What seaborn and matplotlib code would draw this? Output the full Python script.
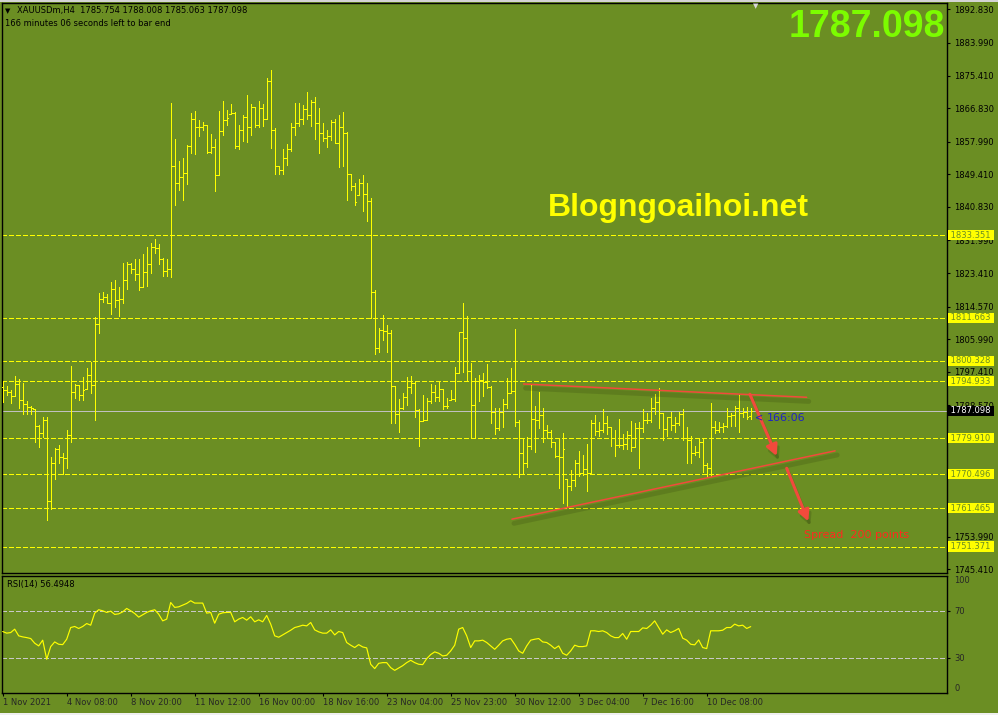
import numpy as np
import pandas as pd
import matplotlib
matplotlib.use('Agg')
import matplotlib.pyplot as plt
import matplotlib.patheffects as pe
import matplotlib.transforms as mtransforms
from matplotlib.patches import Rectangle
import seaborn as sns


# XAUUSDm H4 bars (oldest first)
bar_high = [
    1794.9, 1793.6, 1792.6, 1796.3, 1795.5, 1794.5, 1789.6, 1788.4, 1787.6, 1783.4,
    1785.6, 1785.6, 1775.0, 1777.4, 1778.1, 1776.1, 1782.0, 1798.9, 1794.1, 1793.9,
    1796.1, 1798.5, 1800.0, 1811.9, 1818.2, 1818.5, 1818.0, 1821.1, 1821.6, 1819.8,
    1826.1, 1826.4, 1826.1, 1827.0, 1827.0, 1828.4, 1830.2, 1831.2, 1832.5, 1831.0,
    1827.3, 1827.0, 1868.3, 1858.6, 1853.0, 1853.6, 1857.1, 1865.6, 1866.1, 1863.7,
    1863.2, 1862.3, 1860.0, 1858.7, 1866.1, 1868.7, 1866.3, 1867.9, 1865.9, 1862.4,
    1865.0, 1870.3, 1867.9, 1867.2, 1868.7, 1867.9, 1874.9, 1877.0, 1861.5, 1851.6,
    1856.0, 1857.4, 1862.8, 1868.1, 1868.1, 1867.6, 1871.0, 1869.1, 1869.8, 1866.8,
    1863.0, 1861.1, 1863.7, 1863.9, 1865.0, 1865.9, 1860.6, 1849.6, 1847.2, 1848.3,
    1849.2, 1847.0, 1843.1, 1819.0, 1808.9, 1812.4, 1809.7, 1808.4, 1793.8, 1790.2,
    1791.7, 1796.0, 1796.3, 1794.8, 1787.5, 1791.3, 1790.4, 1794.2, 1793.9, 1795.0,
    1792.8, 1790.4, 1792.6, 1798.6, 1808.0, 1815.4, 1812.1, 1799.6, 1795.7, 1796.6,
    1797.0, 1799.4, 1793.7, 1787.8, 1787.9, 1790.2, 1795.7, 1798.3, 1808.6, 1784.7,
    1779.9, 1780.3, 1793.9, 1788.4, 1792.0, 1787.8, 1783.4, 1782.1, 1779.0, 1779.9,
    1781.4, 1769.3, 1771.5, 1774.2, 1776.6, 1775.5, 1778.4, 1784.7, 1786.0, 1784.3,
    1787.5, 1785.8, 1783.0, 1782.1, 1784.9, 1781.0, 1781.9, 1784.5, 1784.0, 1784.3,
    1787.5, 1786.5, 1790.4, 1791.6, 1793.1, 1786.5, 1785.6, 1786.9, 1785.4, 1786.9,
    1787.5, 1783.0, 1780.5, 1777.9, 1779.9, 1779.6, 1773.3, 1789.1, 1784.5, 1784.3,
    1784.0, 1788.0, 1786.6, 1788.4, 1791.3, 1787.8, 1788.2, 1788.008]

bar_low = [
    1789.5, 1791.3, 1789.1, 1791.0, 1787.9, 1786.2, 1786.2, 1786.4, 1779.0, 1777.7,
    1780.3, 1758.3, 1761.4, 1769.3, 1773.3, 1770.4, 1772.1, 1779.0, 1790.6, 1790.1,
    1789.9, 1793.0, 1791.7, 1784.8, 1807.7, 1815.8, 1815.4, 1812.6, 1814.4, 1812.1,
    1815.6, 1819.1, 1823.5, 1821.6, 1818.9, 1819.8, 1820.0, 1823.3, 1828.6, 1825.9,
    1822.6, 1822.6, 1822.3, 1841.3, 1845.3, 1842.6, 1846.8, 1855.1, 1854.7, 1859.5,
    1861.1, 1855.1, 1855.1, 1845.1, 1849.1, 1859.8, 1862.4, 1865.3, 1856.4, 1856.0,
    1858.2, 1858.0, 1859.8, 1861.9, 1861.9, 1862.2, 1863.9, 1856.4, 1849.6, 1849.6,
    1849.6, 1851.8, 1855.6, 1859.8, 1862.1, 1862.6, 1864.1, 1862.2, 1858.7, 1855.1,
    1858.3, 1856.7, 1858.4, 1857.6, 1851.4, 1851.6, 1842.6, 1845.3, 1841.3, 1843.9,
    1839.8, 1837.2, 1811.5, 1802.2, 1802.7, 1805.9, 1802.7, 1784.0, 1784.0, 1781.6,
    1787.5, 1788.7, 1791.7, 1785.4, 1777.9, 1784.5, 1784.7, 1789.1, 1789.8, 1789.8,
    1787.6, 1787.8, 1790.0, 1789.8, 1797.0, 1797.4, 1795.2, 1779.9, 1780.1, 1789.8,
    1791.1, 1793.1, 1784.0, 1780.9, 1782.1, 1782.8, 1787.8, 1791.7, 1783.2, 1769.6,
    1770.7, 1772.4, 1777.2, 1776.4, 1782.5, 1779.0, 1779.9, 1777.7, 1775.0, 1766.7,
    1762.9, 1761.7, 1766.3, 1767.3, 1770.0, 1770.2, 1766.1, 1770.7, 1780.8, 1780.5,
    1781.6, 1781.0, 1777.9, 1775.2, 1777.5, 1777.2, 1777.0, 1776.6, 1777.5, 1772.0,
    1781.6, 1784.0, 1784.3, 1786.3, 1782.5, 1779.4, 1780.5, 1782.1, 1781.6, 1783.4,
    1779.4, 1773.5, 1773.3, 1775.5, 1775.1, 1771.1, 1769.8, 1770.0, 1781.2, 1781.6,
    1781.6, 1783.0, 1783.1, 1783.1, 1781.6, 1785.6, 1785.0, 1785.063]

bar_close = [
    1792.6, 1792.0, 1791.0, 1794.3, 1789.9, 1788.8, 1788.2, 1787.8, 1783.1, 1781.4,
    1784.7, 1763.3, 1773.3, 1777.2, 1775.0, 1774.6, 1780.7, 1792.1, 1793.9, 1791.3,
    1792.6, 1796.5, 1793.9, 1809.9, 1816.7, 1817.2, 1815.6, 1819.1, 1816.3, 1816.7,
    1821.6, 1825.8, 1824.4, 1823.1, 1819.8, 1823.7, 1825.9, 1830.2, 1829.9, 1827.0,
    1824.0, 1824.4, 1851.6, 1847.0, 1848.6, 1849.8, 1856.9, 1863.9, 1861.8, 1861.9,
    1862.3, 1855.3, 1856.5, 1849.1, 1860.8, 1863.7, 1864.3, 1865.5, 1856.9, 1861.0,
    1864.4, 1862.0, 1867.2, 1862.3, 1867.0, 1863.9, 1873.9, 1861.2, 1851.6, 1850.5,
    1853.6, 1856.2, 1861.8, 1862.8, 1863.9, 1866.5, 1865.0, 1868.5, 1862.8, 1860.2,
    1858.9, 1859.6, 1863.1, 1857.6, 1861.8, 1860.4, 1849.6, 1846.3, 1842.2, 1847.0,
    1844.2, 1842.4, 1818.4, 1803.6, 1808.4, 1808.2, 1807.5, 1793.8, 1786.2, 1787.9,
    1790.9, 1793.5, 1794.4, 1787.3, 1784.4, 1784.7, 1789.7, 1792.0, 1790.9, 1792.8,
    1788.4, 1788.4, 1790.2, 1797.0, 1808.0, 1806.2, 1797.7, 1788.7, 1795.1, 1795.2,
    1794.8, 1793.3, 1786.7, 1782.5, 1786.7, 1788.9, 1791.7, 1792.4, 1784.3, 1775.9,
    1773.3, 1777.9, 1784.9, 1784.7, 1786.0, 1782.1, 1781.6, 1779.0, 1775.2, 1775.1,
    1777.0, 1767.3, 1768.9, 1773.3, 1770.7, 1771.7, 1770.7, 1783.8, 1781.9, 1782.1,
    1783.8, 1783.0, 1779.9, 1778.1, 1778.1, 1778.4, 1780.8, 1777.5, 1782.5, 1782.5,
    1784.7, 1784.7, 1787.8, 1789.5, 1786.5, 1782.3, 1785.4, 1783.4, 1783.8, 1786.3,
    1780.1, 1779.4, 1776.0, 1776.4, 1779.0, 1772.9, 1772.0, 1783.0, 1782.1, 1783.0,
    1783.1, 1785.8, 1786.0, 1788.0, 1786.5, 1786.9, 1785.6, 1787.098]

first_open = 1793.5
last_open = 1785.754

rsi14 = [
    52.3, 50.9, 51.4, 54.3, 48.6, 47.7, 47.1, 46.3, 42.3, 40.0,
    44.9, 28.6, 39.4, 43.4, 41.4, 41.1, 45.7, 55.7, 56.6, 54.9,
    56.6, 59.1, 57.7, 68.0, 70.9, 70.0, 68.6, 69.7, 66.9, 67.4,
    69.1, 72.0, 70.0, 67.7, 64.6, 66.6, 68.6, 70.0, 70.9, 67.1,
    61.4, 62.9, 77.1, 72.9, 73.4, 74.9, 76.3, 78.6, 76.6, 76.6,
    76.6, 68.0, 68.6, 59.4, 67.1, 68.3, 68.6, 68.6, 60.6, 62.9,
    64.3, 62.0, 64.9, 60.6, 62.3, 60.6, 66.0, 58.6, 48.6, 47.4,
    49.4, 51.4, 53.4, 55.7, 56.6, 57.7, 57.1, 60.0, 53.7, 52.0,
    50.9, 50.9, 53.7, 49.4, 52.3, 51.4, 42.9, 40.6, 38.6, 41.1,
    39.1, 38.3, 24.3, 20.6, 25.1, 25.7, 25.7, 21.4, 19.1, 21.1,
    23.1, 25.7, 27.7, 25.7, 24.3, 24.0, 29.1, 32.6, 34.9, 33.7,
    31.4, 32.0, 35.7, 40.6, 54.3, 55.7, 48.6, 38.6, 44.3, 44.3,
    44.9, 42.9, 40.0, 37.1, 40.6, 44.3, 45.7, 46.3, 41.4, 35.7,
    33.7, 40.0, 44.9, 45.7, 46.3, 43.4, 42.9, 40.6, 37.7, 40.0,
    33.7, 32.0, 35.7, 40.6, 39.4, 39.4, 40.0, 52.9, 52.9, 52.3,
    52.9, 51.4, 48.6, 47.1, 47.1, 50.6, 45.7, 52.3, 52.3, 52.3,
    55.4, 54.9, 57.7, 61.4, 55.7, 50.0, 53.7, 51.4, 52.9, 54.9,
    46.6, 44.9, 41.4, 40.9, 45.1, 38.6, 37.7, 52.9, 52.9, 52.9,
    53.4, 55.7, 55.7, 58.6, 57.1, 57.7, 54.9, 56.49]

time_labels = ['1 Nov 2021', '4 Nov 08:00', '8 Nov 20:00', '11 Nov 12:00',
               '16 Nov 00:00', '18 Nov 16:00', '23 Nov 04:00', '25 Nov 23:00',
               '30 Nov 12:00', '3 Dec 04:00', '7 Dec 16:00', '10 Dec 08:00']
bars_per_label = 16

price_ticks = [1892.830, 1883.990, 1875.410, 1866.830, 1857.990, 1849.410,
               1840.830, 1831.990, 1823.410, 1814.570, 1805.990, 1797.410,
               1788.570, 1779.990, 1771.410, 1762.570, 1753.990, 1745.410]
# these three sit fully behind the level boxes on the reference
hidden_ticks = [1779.990, 1771.410, 1762.570]

# horizontal levels drawn on the chart
levels = [1833.351, 1811.663, 1800.328, 1794.933, 1779.910, 1770.496, 1761.465, 1751.371]
current_price = 1787.098

# hand-drawn trendlines and arrows (bar index, price)
upper_trend_x, upper_trend_y = [130.2, 201.0], [1794.2, 1790.7]
lower_trend_x, lower_trend_y = [127.3, 208.1], [1758.6, 1776.6]
arrow_down_1 = [(186.8, 1791.5), (193.5, 1775.2)]
arrow_down_2 = [(196.0, 1772.0), (201.4, 1758.0)]


# ---- layout (pixel based, MT4 window 998x715) ----
W, H = 998, 715
BG = '#6B8E23'
BAR = '#FFFF00'

sns.set_theme(style='white', rc={'axes.facecolor': BG, 'figure.facecolor': BG})
plt.rcParams['font.family'] = ['DejaVu Sans']


def fx(px):
    return px / W


def fy(py):
    return 1 - py / H


fig = plt.figure(figsize=(W / 100, H / 100), dpi=100)
left_px, right_px = 1.7, 947.3
ax = fig.add_axes([fx(left_px), fy(573.3), fx(right_px - left_px), (573.3 - 2.7) / H])
rx = fig.add_axes([fx(left_px), fy(692.7), fx(right_px - left_px), (692.7 - 575.7) / H], sharex=ax)

for a in (ax, rx):
    a.set_facecolor(BG)
    for s in a.spines.values():
        s.set_color('black')
        s.set_linewidth(1.0)

# ---- OHLC bars ----
ohlc = pd.DataFrame({'high': bar_high, 'low': bar_low, 'close': bar_close})
ohlc['open'] = ohlc['close'].shift(1).fillna(first_open)
ohlc.loc[ohlc.index[-1], 'open'] = last_open
ohlc['open'] = ohlc['open'].clip(ohlc['low'], ohlc['high'])
idx = np.arange(len(ohlc))

px1 = 0.72  # one screen pixel
ax.vlines(idx, ohlc['low'], ohlc['high'], color=BAR, lw=px1, antialiased=False, zorder=3)
ax.hlines(ohlc['open'], idx - 0.45, idx, color=BAR, lw=px1, antialiased=False, zorder=3)
ax.hlines(ohlc['close'], idx, idx + 0.45, color=BAR, lw=px1, antialiased=False, zorder=3)

ax.set_xlim(-0.25, 236.15)
ax.set_ylim(1744.35, 1894.6)

dash = (0, (5.0, 2.6))
for lv in levels:
    ax.axhline(lv, color=BAR, lw=px1, ls=dash, antialiased=False, zorder=2)
ax.axhline(current_price, color='#C0C0C0', lw=px1, antialiased=False, zorder=2)

ax.yaxis.tick_right()
ax.set_yticks(price_ticks)
ax.set_yticklabels(['' if v in hidden_ticks else f'{v:.3f}' for v in price_ticks])
ax.tick_params(axis='y', right=True, left=False, direction='out', length=2.5,
               width=0.8, color='black', labelsize=6, pad=2.5, labelcolor='black')
ax.tick_params(axis='x', bottom=False, labelbottom=False)

trans = mtransforms.blended_transform_factory(ax.transAxes, ax.transData)
box_x = 1 + 1.2 / (right_px - left_px)
for lv in levels:
    ax.text(box_x, lv, f' {lv:.3f} ', transform=trans, ha='left', va='center',
            fontsize=6, color=BG, clip_on=False, zorder=10,
            bbox=dict(boxstyle='square,pad=0.08', fc='#FFFF00', ec='none'))
ax.text(box_x, current_price, f' {current_price:.3f} ', transform=trans, ha='left',
        va='center', fontsize=6, color='white', clip_on=False, zorder=10,
        bbox=dict(boxstyle='square,pad=0.08', fc='black', ec='none'))

# trendlines + arrows
red = '#F24A3C'
shadow = [pe.SimpleLineShadow(offset=(1.5, -3), shadow_color='#26330a', alpha=0.18, linewidth=3.5),
          pe.Normal()]
ax.plot(upper_trend_x, upper_trend_y, color=red, lw=1.1, zorder=6, path_effects=shadow)
ax.plot(lower_trend_x, lower_trend_y, color=red, lw=1.1, zorder=6, path_effects=shadow)
for start, end in (arrow_down_1, arrow_down_2):
    ann = ax.annotate('', xy=end, xytext=start, zorder=7,
                      arrowprops=dict(arrowstyle='-|>,head_length=0.55,head_width=0.28',
                                      color=red, lw=2.2, shrinkA=0, shrinkB=0,
                                      mutation_scale=12))
    ann.arrow_patch.set_path_effects([
        pe.SimpleLineShadow(offset=(1.5, -3), shadow_color='#26330a', alpha=0.2),
        pe.Normal()])

# ---- RSI panel ----
sns.lineplot(x=idx, y=rsi14, ax=rx, color=BAR, lw=0.85, zorder=3)
for lv in (70, 30):
    rx.axhline(lv, color='#C8C8C8', lw=px1, ls=dash, antialiased=False, zorder=2)
rx.set_ylim(0, 100)
rx.yaxis.tick_right()
rx.set_yticks([0, 30, 70, 100])
rx.set_yticklabels(['0', '30', '70', '100'])
rx.tick_params(axis='y', right=True, left=False, direction='out', length=2.5,
               width=0.8, color='black', labelsize=6, pad=2.5)
yt = rx.yaxis.get_major_ticks()
yt[0].tick2line.set_visible(False)
yt[3].tick2line.set_visible(False)
rx.get_yticklabels()[0].set_va('bottom')
rx.get_yticklabels()[3].set_va('top')

xt = np.arange(len(time_labels)) * bars_per_label
rx.set_xticks(xt)
rx.set_xticklabels(time_labels)
rx.tick_params(axis='x', bottom=True, direction='out', length=2.5, width=0.8,
               color='black', labelsize=6, pad=1.5)
for lbl in rx.get_xticklabels():
    lbl.set_ha('left')
rx.set_xlabel('')
rx.set_ylabel('')

# ---- text overlays ----
fig.text(fx(5), fy(11), '\u25BC', fontsize=5, color='black', va='center')
fig.text(fx(17), fy(11), 'XAUUSDm,H4  1785.754 1788.008 1785.063 1787.098',
         fontsize=6, color='black', va='center')
fig.text(fx(5), fy(24), '166 minutes 06 seconds left to bar end',
         fontsize=6, color='black', va='center')
fig.text(fx(7), fy(585), 'RSI(14) 56.4948', fontsize=6, color='black', va='center')
fig.text(fx(756), fy(6), '\u25BC', fontsize=5, color='#D8D8D8', ha='center', va='center')

fig.text(fx(945), fy(27), '1787.098', fontsize=27, fontweight='bold',
         family='Liberation Sans', color='#7CFC00', ha='right', va='center')
fig.text(fx(678), fy(216), 'Blogngoaihoi.net', fontsize=23, fontweight='bold',
         family='Liberation Sans', color='#FFFF00', ha='center', va='baseline')

fig.text(fx(755), fy(418), '<', fontsize=7, color='#1E22C8', va='center')
fig.text(fx(767), fy(418), '166:06', fontsize=8, color='#1E22C8', va='center')
fig.text(fx(804), fy(535), 'Spread  200 points', fontsize=8, color='#FF2A1E', va='center')

# window chrome strips
fig.patches.append(Rectangle((0, 0), 1, 2.5 / H, transform=fig.transFigure,
                             fc='#F0F0F0', ec='none', zorder=0))
fig.patches.append(Rectangle((0, fy(1.5)), 1, 1.5 / H, transform=fig.transFigure,
                             fc='#D4D4D4', ec='none', zorder=0))

fig.savefig('out.png', dpi=100, facecolor=BG)
